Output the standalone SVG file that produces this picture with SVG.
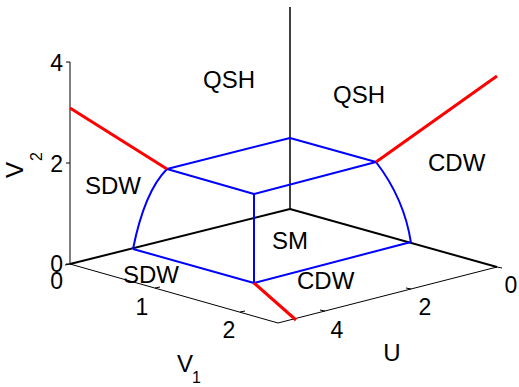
<svg xmlns="http://www.w3.org/2000/svg" width="519" height="387" viewBox="0 0 519 387">
<style>
text{font-family:"Liberation Sans",Arial,sans-serif;font-size:24px;fill:#000}
.tk{font-size:23px}
.sub{font-size:16px}
.thin{stroke:#000;stroke-width:1;fill:none}
.blk{stroke:#000;stroke-width:2;fill:none}
.blue{stroke:#0000ff;stroke-width:2;fill:none}
.red{stroke:#ff0000;stroke-width:3;fill:none}
</style>
<rect width="519" height="387" fill="#fff"/>
<g id="axes">
<line class="thin" x1="70" y1="62" x2="70" y2="264"/>
<line class="thin" x1="66" y1="62" x2="70" y2="62"/>
<line class="thin" x1="66" y1="163" x2="70" y2="163"/>
<line class="thin" x1="66" y1="264" x2="70" y2="264"/>
<line class="thin" x1="70" y1="264" x2="278" y2="323"/>
<line class="thin" x1="278" y1="323" x2="497" y2="267"/>
<line class="thin" x1="70" y1="264" x2="65" y2="265"/>
<line class="thin" x1="155" y1="288" x2="160" y2="287"/>
<line class="thin" x1="240" y1="312" x2="245" y2="311"/>
<line class="thin" x1="497" y1="267" x2="502" y2="268"/>
<line class="thin" x1="411" y1="289" x2="406" y2="288"/>
<line class="thin" x1="325" y1="311" x2="320" y2="310"/>
<text class="tk" x="63" y="71" text-anchor="end">4</text>
<text class="tk" x="63" y="172" text-anchor="end">2</text>
<text class="tk" x="63" y="272" text-anchor="end">0</text>
<text class="tk" x="63" y="289" text-anchor="end">0</text>
<text class="tk" x="142" y="315" text-anchor="middle">1</text>
<text class="tk" x="229" y="338" text-anchor="middle">2</text>
<text class="tk" x="511" y="293" text-anchor="middle">0</text>
<text class="tk" x="425" y="315" text-anchor="middle">2</text>
<text class="tk" x="337" y="338" text-anchor="middle">4</text>
<text x="392" y="361" text-anchor="middle">U</text>
<text x="177" y="372">V</text>
<text class="sub" x="192" y="383">1</text>
<text transform="translate(23,178) rotate(-90)">V</text>
<text class="sub" transform="translate(42,161) rotate(-90)">2</text>
</g>
<g id="connectors">
<line class="blk" x1="70" y1="264" x2="290" y2="209"/>
<line class="blk" x1="290" y1="209" x2="497" y2="267"/>
<line stroke="#000" stroke-width="1.5" x1="290" y1="7" x2="290" y2="209"/>
<line class="blue" x1="133" y1="249" x2="254" y2="283"/>
<line class="blue" x1="254" y1="283" x2="411" y2="242"/>
<line class="blue" x1="254" y1="283" x2="254" y2="194"/>
<line class="blue" x1="167" y1="169" x2="254" y2="194"/>
<line class="blue" x1="254" y1="194" x2="376" y2="162"/>
<line class="blue" x1="167" y1="169" x2="290" y2="138"/>
<line class="blue" x1="290" y1="138" x2="376" y2="162"/>
<path class="blue" d="M133,249 Q144.5,191.5 167,169"/>
<path class="blue" d="M376,162 Q404.4,198.9 411,243"/>
<line class="red" x1="70" y1="108" x2="167" y2="169"/>
<line class="red" x1="376" y1="162" x2="497" y2="76"/>
<line class="red" x1="254" y1="283" x2="296" y2="320"/>
</g>
<g id="labels">
<text x="203" y="88">QSH</text>
<text x="333" y="103">QSH</text>
<text x="428" y="171">CDW</text>
<text x="85" y="194">SDW</text>
<text x="123" y="283">SDW</text>
<text x="272" y="249">SM</text>
<text x="297" y="289">CDW</text>
</g>
</svg>
